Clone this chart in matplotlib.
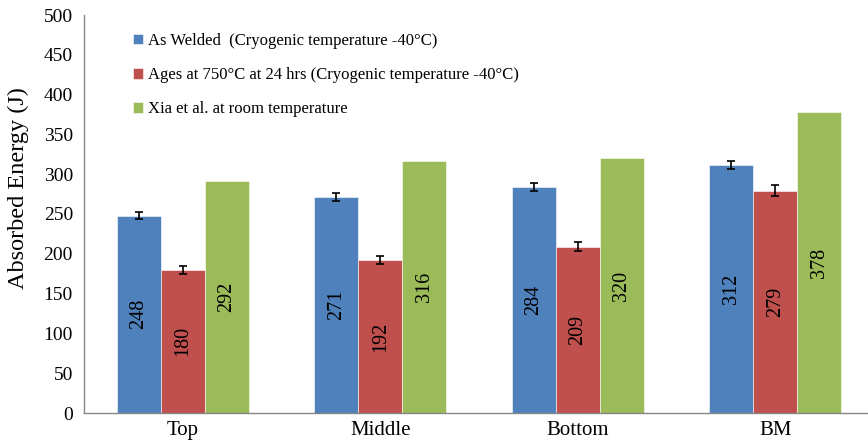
import matplotlib
matplotlib.use("Agg")
import matplotlib.pyplot as plt
import numpy as np

categories = ["Top", "Middle", "Bottom", "BM"]
series_names = ["As Welded  (Cryogenic temperature -40\u00b0C)",
                "Ages at 750\u00b0C at 24 hrs (Cryogenic temperature -40\u00b0C)",
                "Xia et al. at room temperature"]
as_welded = [248, 271, 284, 312]
aged = [180, 192, 209, 279]
xia = [292, 316, 320, 378]
as_welded_err = [4, 5, 5, 5]
aged_err = [5, 5, 6, 7]
colors = ["#4F81BD", "#C0504D", "#9BBB59"]
yticks = [0, 50, 100, 150, 200, 250, 300, 350, 400, 450, 500]

plt.rcParams['font.family'] = ['Liberation Serif', 'DejaVu Serif']

fig = plt.figure(figsize=(8.68, 4.45), dpi=100)
W, H = 868, 445
ax = fig.add_axes([84 / W, 32 / H, 790 / W, 398 / H])

x = np.arange(len(categories))
bw = 0.223
series = [as_welded, aged, xia]
errs = [as_welded_err, aged_err, None]
for i, (vals, err, c, name) in enumerate(zip(series, errs, colors, series_names)):
    pos = x + (i - 1) * bw
    ax.bar(pos, vals, width=bw, color=c, edgecolor="white", linewidth=0.4, label=name, zorder=2)
    if err is not None:
        ax.errorbar(pos, vals, yerr=err, fmt="none", ecolor="black", elinewidth=1.2,
                    capsize=3, capthick=1.2, zorder=3)
    for p, v in zip(pos, vals):
        ax.text(p, v / 2, str(v), rotation=90, ha="center", va="center", fontsize=14.5, color="black", zorder=4)

ax.set_xlim(-0.5, 3.5)
ax.set_ylim(0, 500)
ax.set_yticks(yticks)
ax.set_xticks(x)
ax.set_xticklabels(categories, fontsize=15)
ax.tick_params(axis="y", labelsize=14, length=0, pad=8)
ax.tick_params(axis="x", length=0, pad=6)
ax.set_ylabel("Absorbed Energy (J)", fontsize=17.5, va="center")
ax.yaxis.set_label_coords(-0.083, 0.565)
for s in ["top", "right"]:
    ax.spines[s].set_visible(False)
for s in ["left", "bottom"]:
    ax.spines[s].set_color("#868686")
    ax.spines[s].set_linewidth(1.0)

leg = ax.legend(loc="upper left", bbox_to_anchor=(0.043, 0.993), frameon=False, fontsize=12,
                handlelength=0.6, handleheight=0.6, handletextpad=0.3, labelspacing=1.1)

fig.savefig("out.png", dpi=100)
